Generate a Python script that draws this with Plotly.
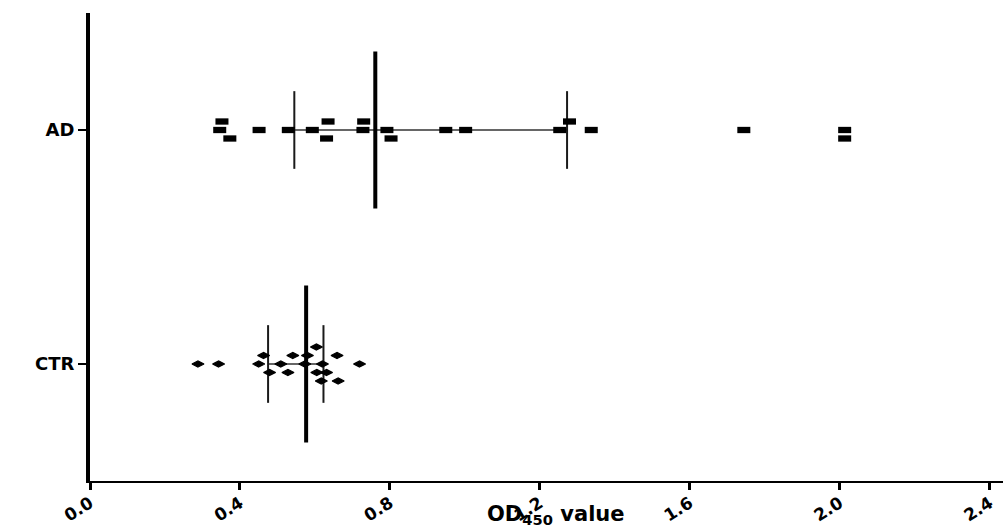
import numpy as np
import plotly.graph_objects as go

# ---------------- data ----------------
groups = ["AD", "CTR"]

ad_values = [0.346, 0.451, 0.529, 0.593, 0.728, 0.792, 0.949, 1.002, 1.253, 1.337, 1.744, 2.013,
             0.352, 0.635, 0.730, 1.279,
             0.373, 0.631, 0.803, 2.013]
# stacking level of each dot in the scatter-dot plot (0 = on the category line)
ad_stack = [0] * 12 + [1] * 4 + [-1] * 4

ctr_values = [0.288, 0.343, 0.450, 0.509, 0.573, 0.620, 0.719,
              0.463, 0.541, 0.580, 0.659,
              0.604,
              0.479, 0.528, 0.605, 0.631,
              0.617, 0.662]
ctr_stack = [0] * 7 + [1] * 4 + [2] + [-1] * 4 + [-2] * 2

x_ticks = [0.0, 0.4, 0.8, 1.2, 1.6, 2.0, 2.4]
x_tick_labels = ["0.0", "0.4", "0.8", "1.2", "1.6", "2.0", "2.4"]
x_title = "<b>OD<sub>450</sub> value</b>"

# ---------------- style ----------------
FONT = "DejaVu Sans"
ROW_STEP = 8.5 / 234.0      # vertical spacing between stacked dots (axis units)
MED_HALF = 0.335            # half length of the median bar
IQR_HALF = 0.166            # half length of the quartile bars

series = [
    dict(name="AD", values=ad_values, stack=ad_stack, symbol="line-ew", size=9.3, lw=6.3),
    dict(name="CTR", values=ctr_values, stack=ctr_stack, symbol="diamond-wide", size=8.6, lw=1.2),
]

fig = go.Figure()
n = len(groups)
for s in series:
    base = n - 1 - groups.index(s["name"])
    vals = np.array(s["values"], dtype=float)
    q1, med, q3 = np.percentile(vals, [25, 50, 75], method="weibull")

    # horizontal line between quartiles
    fig.add_trace(go.Scatter(x=[q1, q3], y=[base, base], mode="lines",
                             line=dict(color="#333333", width=1.5), hoverinfo="skip"))
    # quartile bars
    fig.add_trace(go.Scatter(x=[q1, q1, None, q3, q3],
                             y=[base - IQR_HALF, base + IQR_HALF, None, base - IQR_HALF, base + IQR_HALF],
                             mode="lines", line=dict(color="#1a1a1a", width=2), hoverinfo="skip"))
    # median bar
    fig.add_trace(go.Scatter(x=[med, med], y=[base - MED_HALF, base + MED_HALF], mode="lines",
                             line=dict(color="black", width=4), hoverinfo="skip"))
    # dots
    ys = [base + k * ROW_STEP for k in s["stack"]]
    fig.add_trace(go.Scatter(x=vals, y=ys, mode="markers", name=s["name"],
                             marker=dict(symbol=s["symbol"], size=s["size"], color="black",
                                         line=dict(color="black", width=s["lw"]))))

plot_w = 1003 - 90
fig.update_layout(
    width=1003, height=528,
    margin=dict(l=90, r=0, t=13, b=47),
    plot_bgcolor="white", paper_bgcolor="white",
    showlegend=False,
    font=dict(family=FONT, color="black"),
    xaxis=dict(range=[0, plot_w / 374.9], tickvals=x_ticks, ticktext=x_tick_labels,
               ticks="outside", ticklen=7, tickwidth=3, tickcolor="black",
               showline=True, linewidth=2, linecolor="black",
               showgrid=False, zeroline=False, tickangle=-32,
               tickfont=dict(family=FONT, size=17, weight="bold", color="black")),
    yaxis=dict(range=[-0.5, 1.5], tickvals=[n - 1 - i for i in range(n)], ticktext=groups,
               ticks="outside", ticklen=8, tickwidth=1.5, tickcolor="black",
               showline=True, linewidth=4, linecolor="black",
               showgrid=False, zeroline=False,
               tickfont=dict(family=FONT, size=18, weight="bold", color="black")),
    annotations=[dict(text=x_title, xref="paper", yref="paper",
                      x=(556 - 90) / plot_w, y=-0.104, xanchor="center", yanchor="bottom",
                      showarrow=False, font=dict(family=FONT, size=21, color="black"))],
)

# pull the slanted tick labels a little closer to the axis, as in the reference
try:
    fig.update_xaxes(ticklabelstandoff=-3)
except Exception:
    pass

fig.write_html("out.html")
